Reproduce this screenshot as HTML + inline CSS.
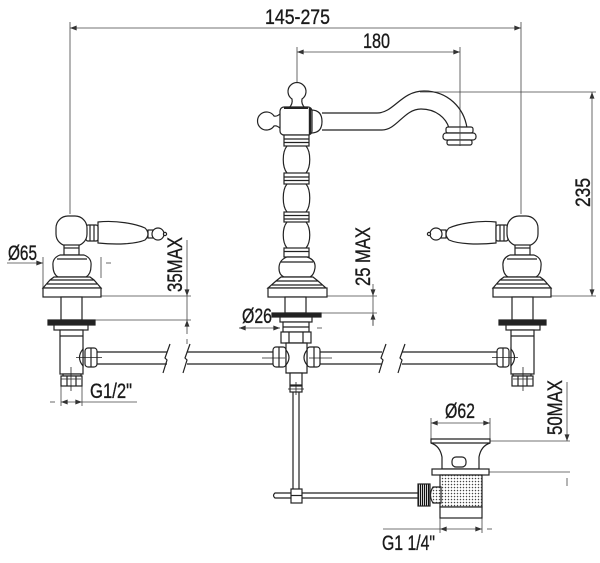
<!DOCTYPE html>
<html><head><meta charset="utf-8"><style>
html,body{margin:0;padding:0;background:#fff;}
svg{display:block;}
text{font-family:"Liberation Sans Narrow","Liberation Sans",sans-serif;fill:#1a1a1a;font-size:21px;stroke:#1a1a1a;stroke-width:0.35px;}
</style></head><body>
<svg width="600" height="563" viewBox="0 0 600 563" xmlns="http://www.w3.org/2000/svg">
<defs>
<marker id="a" viewBox="0 0 8 6" refX="8" refY="3" markerWidth="8" markerHeight="5" markerUnits="userSpaceOnUse" orient="auto-start-reverse"><path d="M0,0 L8,3 L0,6 z" fill="#333"/></marker>
<pattern id="dots" width="3" height="3" patternUnits="userSpaceOnUse"><rect width="3" height="3" fill="#fff"/><circle cx="1.5" cy="1.5" r="0.75" fill="#444"/></pattern>
<pattern id="knurl" width="2" height="4" patternUnits="userSpaceOnUse"><rect width="2" height="4" fill="#fff"/><rect width="1.2" height="4" fill="#111"/></pattern>
<g id="valve" fill="#fff" stroke="#222" stroke-width="1.2">
  <rect x="76" y="230" width="5" height="8"/>
  <circle cx="86" cy="234" r="6"/>
  <circle cx="93" cy="234" r="1.6"/>
  <path d="M26 222 C45 220 64 224 73 228 Q79 234 73 240 C64 244 45 245 26 243 Z"/>
  <rect x="14" y="225" width="12" height="16" rx="2"/>
  <line x1="18" y1="225" x2="18" y2="241"/>
  <line x1="22" y1="225" x2="22" y2="241"/>
  <rect x="-16" y="216" width="31" height="30" rx="12"/>
  <rect x="-8" y="245" width="15" height="10"/>
  <line x1="-8" y1="248" x2="7" y2="248"/>
  <path d="M-12 255 L12 255 Q20 258 19 266 Q19 274 14 277 L-14 277 Q-19 274 -19 266 Q-20 258 -12 255 Z"/>
  <line x1="-15" y1="259" x2="15" y2="259"/>
  <path d="M-18 277 L18 277 L22 280 L29 288 L-29 288 L-22 280 Z"/>
  <line x1="-22" y1="280" x2="22" y2="280"/>
  <line x1="-25" y1="284" x2="25" y2="284"/>
  <rect x="-29" y="288" width="58" height="9"/>
  <rect x="-11" y="297" width="21" height="23"/>
  <rect x="-24" y="320" width="47" height="5" fill="#222"/>
  <rect x="-18" y="325" width="34" height="5"/>
  <rect x="-12" y="330" width="23" height="44"/>
  <line x1="-12" y1="336" x2="11" y2="336"/>
  <path d="M11 349 Q4 357.5 11 366 Z"/>
  <rect x="13" y="348" width="12" height="19" rx="3"/>
  <line x1="19" y1="348" x2="19" y2="367"/>
  <line x1="4" y1="357.5" x2="30" y2="357.5" stroke-width="0.8"/>
  <rect x="-9" y="374" width="18" height="2"/>
  <rect x="-11" y="376" width="21" height="10"/>
  <line x1="-5" y1="376" x2="-5" y2="386"/>
  <line x1="4" y1="376" x2="4" y2="386"/>
  <line x1="-1" y1="367" x2="-1" y2="391" stroke-width="0.8"/>
  <line x1="-11" y1="379" x2="9" y2="379" stroke-width="0.8"/>
</g>
</defs>

<g stroke="#444" stroke-width="0.8" fill="none">
  <line x1="70" y1="28" x2="521" y2="28" marker-start="url(#a)" marker-end="url(#a)"/>
  <line x1="70" y1="22" x2="70" y2="214"/>
  <line x1="521" y1="22" x2="521" y2="214"/>
  <line x1="297" y1="52" x2="460" y2="52" marker-start="url(#a)" marker-end="url(#a)"/>
  <line x1="297" y1="47" x2="297" y2="83"/>
  <line x1="460" y1="47" x2="460" y2="146"/>
  <line x1="592" y1="92" x2="592" y2="296" marker-start="url(#a)" marker-end="url(#a)"/>
  <line x1="420" y1="92" x2="596" y2="92"/>
  <line x1="551" y1="296" x2="596" y2="296"/>
  <line x1="7" y1="263" x2="43" y2="263" marker-end="url(#a)"/>
  <line x1="43" y1="257" x2="43" y2="288"/>
  <line x1="101" y1="257" x2="101" y2="278"/>
  <line x1="106" y1="263" x2="111" y2="263"/>
  <path d="M187 240 V296" marker-end="url(#a)"/>
  <path d="M187 296 V320"/>
  <path d="M187 334 V320" marker-end="url(#a)"/>
  <line x1="187" y1="339" x2="187" y2="344"/>
  <line x1="101" y1="296" x2="191" y2="296"/>
  <line x1="95" y1="320" x2="191" y2="320"/>
  <path d="M373 284 V296" marker-end="url(#a)"/>
  <path d="M373 296 V313"/>
  <path d="M373 326 V313" marker-end="url(#a)"/>
  <line x1="373" y1="320" x2="373" y2="325"/>
  <line x1="327" y1="296" x2="377" y2="296"/>
  <line x1="321" y1="313" x2="377" y2="313"/>
  <line x1="239" y1="328" x2="280" y2="328" marker-start="url(#a)" marker-end="url(#a)"/>
  <line x1="317" y1="328" x2="322" y2="328"/>
  <line x1="50" y1="402" x2="55" y2="402"/>
  <line x1="61" y1="402" x2="82" y2="402" marker-start="url(#a)" marker-end="url(#a)"/>
  <line x1="82" y1="402" x2="137" y2="402"/>
  <line x1="61" y1="386" x2="61" y2="406"/>
  <line x1="82" y1="386" x2="82" y2="406"/>
  <path d="M567 382 V441" marker-end="url(#a)"/>
  <line x1="490" y1="441" x2="570" y2="441"/>
  <line x1="489" y1="472" x2="570" y2="472"/>
  <line x1="567" y1="478" x2="567" y2="486"/>
  <line x1="431" y1="423" x2="490" y2="423" marker-start="url(#a)" marker-end="url(#a)"/>
  <line x1="431" y1="418" x2="431" y2="439"/>
  <line x1="490" y1="418" x2="490" y2="439"/>
  <line x1="383" y1="529" x2="440" y2="529"/>
  <line x1="440" y1="529" x2="482" y2="529" marker-start="url(#a)" marker-end="url(#a)"/>
  <line x1="487" y1="529" x2="492" y2="529"/>
  <line x1="440" y1="518" x2="440" y2="533"/>
  <line x1="482" y1="518" x2="482" y2="533"/>
</g>

<g stroke="#222" stroke-width="1.2" fill="none">
  <path d="M97 352 H167 M97 364 H167"/>
  <path d="M163 373 L167 360 L165 358 L170 344"/>
  <path d="M187 352 H273 M187 364 H273"/>
  <path d="M183 373 L187 360 L185 358 L190 344"/>
  <path d="M320 352 H382 M320 364 H382"/>
  <path d="M379 373 L383 360 L381 358 L386 344"/>
  <path d="M402 352 H497 M402 364 H497"/>
  <path d="M398 373 L402 360 L400 358 L405 344"/>
</g>

<use href="#valve" transform="translate(72,0)"/>
<use href="#valve" transform="translate(522,0) scale(-1,1)"/>

<g fill="#fff" stroke="#222" stroke-width="1.2">
  <path fill="none" d="M322 113 L377 113 C394 113 401 91 424 91 C448 91 464 108 467 128"/>
  <path fill="none" d="M322 130 L382 130 C397 130 404 109 421 109 C436 109 446 118 449 128"/>
  <rect x="446" y="127" width="27" height="6" rx="2"/>
  <rect x="443" y="133" width="33" height="7" rx="3"/>
  <rect x="447" y="140" width="25" height="5" rx="2"/>
  <line x1="460" y1="127" x2="460" y2="146" stroke="#444" stroke-width="0.8"/>
  <path d="M289 108 Q293 104 292 99 A9 9 0 1 1 302 99 Q301 104 305 108 Z"/>
  <path d="M281 113 Q277 117 274 116 A9 9 0 1 0 274 126 Q277 125 281 129 Z"/>
  <path d="M311 110 Q322 110 322 121.5 Q322 133 311 133 Z"/>
  <rect x="280" y="107" width="32" height="28" rx="4"/>
  <line x1="310" y1="108" x2="310" y2="134" stroke-width="2.4"/>
  <line x1="284" y1="108" x2="308" y2="108" stroke-width="2"/>
  <path fill="none" d="M287 146 C282 152 282 167 287 173 M306 146 C311 152 311 167 306 173"/>
  <path fill="none" d="M287 184 C282 190 282 206 287 212 M306 184 C311 190 311 206 306 212"/>
  <path fill="none" d="M287 222 C282 228 282 242 287 248 M306 222 C311 228 311 242 306 248"/>
  <rect x="284" y="135" width="25" height="11"/>
  <line x1="284" y1="139" x2="309" y2="139"/><line x1="284" y1="142.5" x2="309" y2="142.5"/>
  <rect x="284" y="173" width="25" height="11"/>
  <line x1="284" y1="177" x2="309" y2="177"/><line x1="284" y1="180.5" x2="309" y2="180.5"/>
  <rect x="284" y="212" width="25" height="10"/>
  <line x1="284" y1="215.5" x2="309" y2="215.5"/><line x1="284" y1="219" x2="309" y2="219"/>
  <rect x="284" y="248" width="25" height="9"/>
  <line x1="284" y1="251.5" x2="309" y2="251.5"/>
  <path d="M287 257 L307 257 Q316 260 315 268 Q314 275 310 277 L284 277 Q279 275 279 268 Q279 260 287 257 Z"/>
  <line x1="281" y1="262" x2="313" y2="262"/>
  <path d="M281 277 L313 277 L318 281 L326 288 L268 288 L276 281 Z"/>
  <line x1="276" y1="281" x2="318" y2="281"/>
  <line x1="272" y1="285" x2="322" y2="285"/>
  <rect x="268" y="288" width="59" height="9"/>
  <rect x="285" y="297" width="21" height="16"/>
  <rect x="272" y="313" width="49" height="4" fill="#222"/>
  <rect x="280" y="317" width="32" height="5"/>
  <rect x="283" y="322" width="26" height="10"/>
  <line x1="283" y1="327" x2="309" y2="327"/>
  <rect x="281" y="332" width="30" height="11"/>
  <line x1="289" y1="332" x2="289" y2="343"/>
  <line x1="303" y1="332" x2="303" y2="343"/>
  <rect x="273" y="347" width="13" height="20" rx="3"/>
  <rect x="307" y="347" width="13" height="20" rx="3"/>
  <line x1="279" y1="347" x2="279" y2="367"/>
  <line x1="314" y1="347" x2="314" y2="367"/>
  <path d="M286 343 L307 343 L307 373 L286 373 Z"/>
  <path d="M286 350 Q292 357.5 286 365 M307 350 Q301 357.5 307 365" fill="none"/>
  <line x1="262" y1="358" x2="285" y2="358" stroke-width="0.8"/>
  <line x1="309" y1="358" x2="332" y2="358" stroke-width="0.8"/>
  <rect x="290" y="373" width="12" height="12"/>
  <rect x="290" y="386" width="12" height="6"/>
  <line x1="296" y1="382" x2="296" y2="395" stroke-width="0.8"/>
  <line x1="288" y1="389" x2="304" y2="389" stroke-width="0.8"/>
  <path fill="none" d="M293 392 V489 M299 392 V489"/>
  <path d="M275 493 H420 V498 H275 Q272 495.5 275 493 Z"/>
  <rect x="291" y="489" width="11" height="14"/>
  <line x1="291" y1="495.5" x2="302" y2="495.5"/>
  <path d="M431 439 L490 439 L490 443 Q481 446 479 457 L479 469 L442 469 L442 457 Q440 446 431 443 Z"/>
  <line x1="431" y1="443" x2="490" y2="443"/>
  <rect x="452" y="457" width="14" height="10" rx="4"/>
  <rect x="432" y="469" width="57" height="6"/>
  <rect x="440" y="475" width="42" height="32" fill="url(#dots)"/>
  <rect x="440" y="507" width="42" height="11"/>
  <path d="M441 487 L433 487 Q428 495 433 503 L441 503 Z" fill="url(#dots)"/>
  <rect x="418" y="484" width="12" height="22" fill="url(#knurl)"/>
</g>

<text x="265" y="24" font-size="22" textLength="65" lengthAdjust="spacingAndGlyphs">145-275</text>
<text x="363" y="48" textLength="27" lengthAdjust="spacingAndGlyphs">180</text>
<text transform="translate(590,207) rotate(-90)" textLength="29" lengthAdjust="spacingAndGlyphs">235</text>
<text x="8" y="260" font-size="20" textLength="29" lengthAdjust="spacingAndGlyphs">Ø65</text>
<text transform="translate(182,292) rotate(-90)" textLength="55" lengthAdjust="spacingAndGlyphs">35MAX</text>
<text transform="translate(370,286) rotate(-90)" textLength="59" lengthAdjust="spacingAndGlyphs">25 MAX</text>
<text x="242" y="323" font-size="20" textLength="30" lengthAdjust="spacingAndGlyphs">Ø26</text>
<text x="90" y="398" font-size="22" textLength="42" lengthAdjust="spacingAndGlyphs">G1/2"</text>
<text transform="translate(562,435) rotate(-90)" textLength="55" lengthAdjust="spacingAndGlyphs">50MAX</text>
<text x="445" y="418" font-size="20" textLength="30" lengthAdjust="spacingAndGlyphs">Ø62</text>
<text x="382" y="550" font-size="22" textLength="53" lengthAdjust="spacingAndGlyphs">G1 1/4"</text>
</svg>
</body></html>
